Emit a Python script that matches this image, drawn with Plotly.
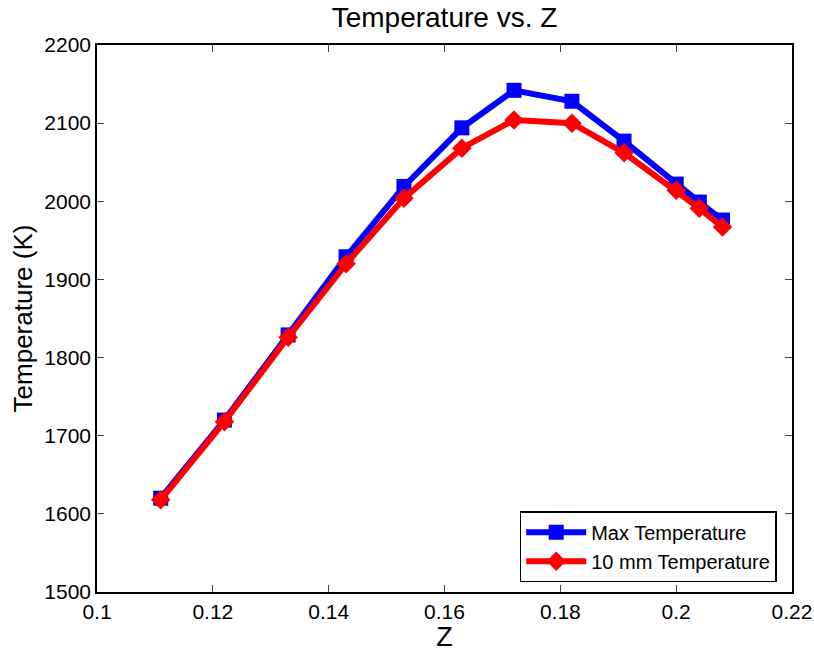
import plotly.graph_objects as go

z = [0.111, 0.122, 0.133, 0.143, 0.153, 0.163, 0.172, 0.182, 0.191, 0.200, 0.204, 0.208]
max_temp = [1620, 1720, 1829, 1929, 2019, 2094, 2142, 2128, 2077, 2022, 1999, 1976]
temp_10mm = [1618, 1718, 1826, 1920, 2004, 2068, 2104, 2100, 2062, 2014, 1991, 1967]

x_ticks = [0.1, 0.12, 0.14, 0.16, 0.18, 0.2, 0.22]
x_tick_labels = ["0.1", "0.12", "0.14", "0.16", "0.18", "0.2", "0.22"]
y_ticks = [1500, 1600, 1700, 1800, 1900, 2000, 2100, 2200]

font = "Liberation Sans, Arial, sans-serif"

fig = go.Figure()
fig.add_trace(go.Scatter(
    x=z, y=max_temp, name="Max Temperature", mode="lines+markers",
    line=dict(color="#0000ff", width=6),
    marker=dict(symbol="square", size=15, color="#0000ff"),
))
fig.add_trace(go.Scatter(
    x=z, y=temp_10mm, name="10 mm Temperature", mode="lines+markers",
    line=dict(color="#ff0000", width=6),
    marker=dict(symbol="diamond", size=15, color="#ff0000"),
))

axis_common = dict(
    showgrid=False, zeroline=False, showline=True, linecolor="black", linewidth=1.5,
    mirror="ticks", ticks="inside", ticklen=7, tickcolor="#444444", tickwidth=1,
    tickfont=dict(family=font, size=21, color="black"), automargin=False,
)

fig.update_layout(
    width=814, height=652,
    margin=dict(l=97, r=22, t=45, b=60),
    paper_bgcolor="white", plot_bgcolor="white",
    title=dict(text="Temperature vs. Z", x=0.5, xref="paper", xanchor="center",
               y=0.988, yanchor="top",
               font=dict(family=font, size=28, color="black")),
    xaxis=dict(range=[0.1, 0.22], tickvals=x_ticks, ticktext=x_tick_labels,
               title=dict(text="Z", font=dict(family=font, size=27, color="black"), standoff=0),
               **axis_common),
    yaxis=dict(range=[1500, 2200], tickvals=y_ticks,
               title=dict(text="Temperature (K)", font=dict(family=font, size=26, color="black"), standoff=4),
               **axis_common),
    legend=dict(x=0.978, y=0.018, xanchor="right", yanchor="bottom",
                bgcolor="white", bordercolor="black", borderwidth=1.5,
                font=dict(family=font, size=20, color="black"),
                itemwidth=60, tracegroupgap=0),
    showlegend=True,
)

fig.write_html("out.html")
